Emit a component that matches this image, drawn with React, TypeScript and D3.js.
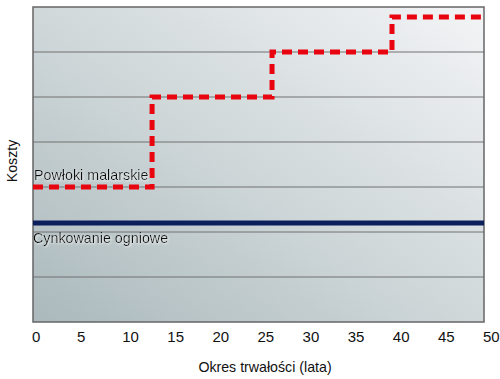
import React from "react";
import * as d3 from "d3";

const xTicks = [0, 5, 10, 15, 20, 25, 30, 35, 40, 45, 50];
const yGrid = [1, 2, 3, 4, 5, 6];
const paintYears = [0, 13.2, 13.2, 26.5, 26.5, 39.8, 39.8, 50];
const paintCost = [3, 3, 5, 5, 6, 6, 6.78, 6.78];
const galvYears = [0, 50];
const galvCost = [2.2, 2.2];
const paintLabel = "Powłoki malarskie";
const galvLabel = "Cynkowanie ogniowe";
const xTitle = "Okres trwałości (lata)";
const yTitle = "Koszty";

export default function App() {
  const W = 500, H = 379;
  const m = { l: 33, r: 484, t: 7, b: 322 };
  const x = d3.scaleLinear().domain([0, 50]).range([m.l, m.r]);
  const y = d3.scaleLinear().domain([0, 7]).range([m.b, m.t]);
  const line = d3.line<[number, number]>().x(d => x(d[0])).y(d => y(d[1]));
  const paint = line(paintYears.map((v, i) => [v, paintCost[i]]) as [number, number][]) || "";
  const galv = line(galvYears.map((v, i) => [v, galvCost[i]]) as [number, number][]) || "";
  const font = "Liberation Sans, Arial, sans-serif";
  return (
    <svg width={W} height={H} style={{ position: "absolute", left: 0, top: 0, display: "block" }} fontFamily={font}>
      <defs>
        <linearGradient id="bg" x1="0" y1="1" x2="1" y2="0">
          <stop offset="0" stopColor="#abb9bc" />
          <stop offset="0.5" stopColor="#d0d8da" />
          <stop offset="1" stopColor="#f3f4f6" />
        </linearGradient>
        <filter id="sh" x="-10%" y="-30%" width="120%" height="160%">
          <feDropShadow dx="1" dy="1" stdDeviation="1" floodColor="#ffffff" floodOpacity="0.8" />
        </filter>
      </defs>
      <rect x={0} y={0} width={W} height={H} fill="#ffffff" />
      <rect x={m.l} y={m.t} width={m.r - m.l} height={m.b - m.t} fill="url(#bg)" />
      {yGrid.map(v => (
        <line key={v} x1={m.l} x2={m.r} y1={y(v)} y2={y(v)} stroke="#707070" strokeWidth={1} />
      ))}
      <rect x={m.l} y={m.t} width={m.r - m.l} height={m.b - m.t} fill="none" stroke="#666" strokeWidth={1.5} />
      <path d={galv} fill="none" stroke="#0a1f5c" strokeWidth={5} />
      <path d={paint} fill="none" stroke="#e8050f" strokeWidth={5} strokeDasharray="10 6" />
      <text x={34} y={180} fontSize={14.3} fill="#111" filter="url(#sh)">{paintLabel}</text>
      <text x={33} y={243} fontSize={14.3} fill="#111" filter="url(#sh)">{galvLabel}</text>
      {xTicks.map(t => (
        <text key={t} x={x(t) - 1} y={342} fontSize={15} fill="#111">{t}</text>
      ))}
      <text x={265} y={372} fontSize={14.2} fill="#111" textAnchor="middle">{xTitle}</text>
      <text transform={`translate(17,161) rotate(-90)`} fontSize={14.2} fill="#111" textAnchor="middle">{yTitle}</text>
    </svg>
  );
}
